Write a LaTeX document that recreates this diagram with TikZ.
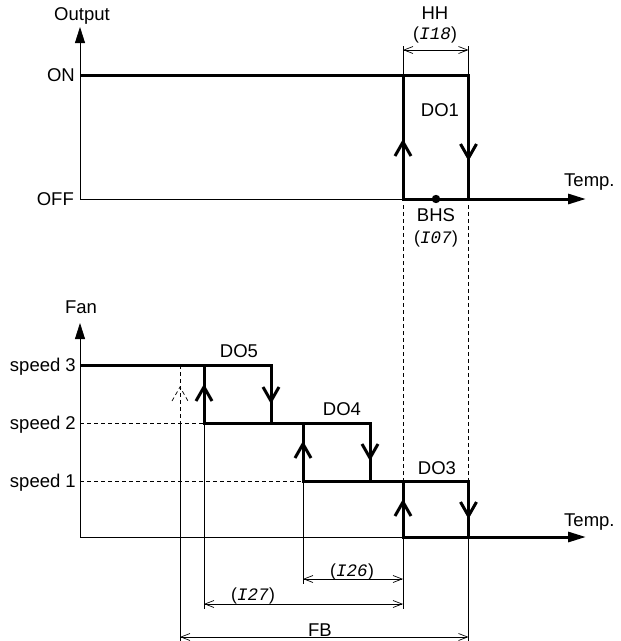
\documentclass[tikz,border=0pt]{standalone}
\usepackage{fontspec}
\setmainfont{Liberation Sans}
\newfontfamily\lcdfont{Liberation Mono}
\usetikzlibrary{arrows.meta}
\newcommand\lcdtxt[1]{(\kern0.3pt{\lcdfont\itshape #1}\kern0.3pt)}
\begin{document}
\begin{tikzpicture}[x=1pt,y=-1pt,
  lbl/.style={font=\fontsize{18.5pt}{21pt}\selectfont, inner sep=0pt, anchor=base},
  lblr/.style={lbl, anchor=base east},
  lcd/.style={font=\fontsize{17.5pt}{20pt}\selectfont, inner sep=0pt, anchor=base},
  thin/.style={line width=0.8pt},
  thickl/.style={line width=3pt},
  dsh/.style={line width=0.7pt, dash pattern=on 4pt off 3pt},
  axis/.style={thin, -{Triangle[length=16pt,width=10pt]}},
  taxis/.style={thickl, -{Triangle[length=18pt,width=10pt]}},
  dim/.style={line width=0.7pt, {Straight Barb[length=9pt,width=7pt]}-{Straight Barb[length=9pt,width=7pt]}},
  upchev/.pic={\draw[thickl] (-8,7) -- (0,-7) -- (8,7);},
  dnchev/.pic={\draw[thickl] (-8,-7) -- (0,7) -- (8,-7);},
  dupchev/.pic={\draw[dsh] (-8,7) -- (0,-7) -- (8,7);}
]
\useasboundingbox (0,0) rectangle (621,641);

% ---------- top chart ----------
\coordinate (o0) at (80,199);
\coordinate (otop) at (80,27);
\draw[axis] (o0) -- (otop);
\node[lbl] (outl) at (82,20) {Output};
\node[lblr] (onl) at (75,81.5) {ON};
\node[lblr] (offl) at (74,205.5) {OFF};

\draw[thin] (o0) -- (403,199);
\draw[thickl] (80,75) -- (468.5,75) -- (468.5,199);
\draw[taxis] (403,75) -- (403,199) -- (586,199);
\node[lbl, anchor=base west] (temp1) at (564,186) {Temp.};
\pic at (403,149) {upchev};
\pic at (468.5,151) {dnchev};
\node[lbl] (do1) at (440,116) {DO1};
\fill (436,199) circle (4.2);
\node[lbl] (bhs) at (436,221) {BHS};
\node[lcd] (i07) at (436,243) {\lcdtxt{I07}};

% HH dimension
\draw[thin] (403,46) -- (403,75);
\draw[thin] (468.5,46) -- (468.5,75);
\draw[dim] (403,50) -- (468.5,50);
\node[lbl] (hh) at (435,19) {HH};
\node[lcd] (i18) at (435,39) {\lcdtxt{I18}};

% dashed links down
\draw[dsh] (403,205) -- (403,481);
\draw[dsh] (468.5,205) -- (468.5,481);

% ---------- bottom chart ----------
\coordinate (f0) at (80,537);
\draw[axis] (f0) -- (80,323);
\node[lbl] (fan) at (81,313) {Fan};
\node[lblr] (s3) at (76,371.5) {speed 3};
\node[lblr] (s2) at (76,429.5) {speed 2};
\node[lblr] (s1) at (76,487.5) {speed 1};

\draw[dsh] (80,423) -- (204,423);
\draw[dsh] (80,481) -- (303,481);
\draw[thin] (f0) -- (403,537);

\draw[thickl] (80,365) -- (271,365) -- (271,423);
\draw[thickl] (204,365) -- (204,423) -- (370,423) -- (370,481);
\draw[thickl] (303,423) -- (303,481) -- (468.5,481) -- (468.5,537);
\draw[taxis] (403,481) -- (403,537) -- (586,537);
\node[lbl, anchor=base west] (temp2) at (564,526) {Temp.};

\pic at (204,394) {upchev};
\pic at (271,394) {dnchev};
\pic at (303,451) {upchev};
\pic at (370,451) {dnchev};
\pic at (403,509) {upchev};
\pic at (468.5,509) {dnchev};
\pic at (180,394) {dupchev};

\node[lbl] (do5) at (239,357) {DO5};
\node[lbl] (do4) at (342,415) {DO4};
\node[lbl] (do3) at (437,474) {DO3};

% extension lines
\draw[dsh] (180,365) -- (180,423);
\draw[thin] (180,423) -- (180,641);
\draw[thin] (204,423) -- (204,609);
\draw[thin] (303,481) -- (303,584);
\draw[thin] (403,537) -- (403,609);
\draw[thin] (468.5,537) -- (468.5,641);

% dimensions
\draw[dim] (303,579) -- (403,579);
\node[lcd] (i26) at (352,576) {\lcdtxt{I26}};
\draw[dim] (204,604) -- (403,604);
\node[lcd] (i27) at (253,600) {\lcdtxt{I27}};
\draw[dim] (180,637) -- (468.5,637);
\node[lbl] (fb) at (320,636) {FB};
\end{tikzpicture}
\end{document}
